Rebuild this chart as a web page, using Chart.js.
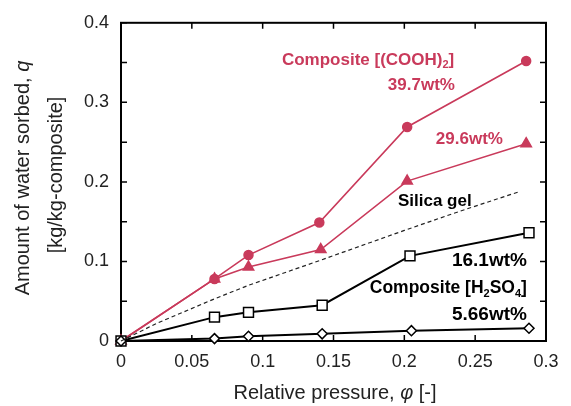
<!DOCTYPE html>
<html>
<head>
<meta charset="utf-8">
<script src="https://cdn.jsdelivr.net/npm/chart.js@4"></script>
<style>
html, body { margin: 0; padding: 0; background: #fff; }
#wrap { width: 571px; height: 406px; }
</style>
</head>
<body>
<div id="wrap"><canvas id="sorption"></canvas></div>
<script>
//values: relative pressure (phi) and water sorbed (q)
const phi_cooh_397 = [0, 0.066, 0.090, 0.140, 0.202, 0.286];
const q_cooh_397   = [0, 0.078, 0.108, 0.149, 0.269, 0.352];

const phi_cooh_296 = [0, 0.066, 0.090, 0.141, 0.202, 0.286];
const q_cooh_296   = [0, 0.078, 0.093, 0.115, 0.201, 0.248];

const phi_silica = [0, 0.025, 0.066, 0.090, 0.140, 0.200, 0.239, 0.280];
const q_silica   = [0, 0.022, 0.053, 0.070, 0.101, 0.139, 0.163, 0.187];

const phi_h2so4_161 = [0, 0.066, 0.090, 0.142, 0.204, 0.288];
const q_h2so4_161   = [0, 0.030, 0.036, 0.045, 0.107, 0.136];

const phi_h2so4_566 = [0, 0.066, 0.090, 0.142, 0.205, 0.288];
const q_h2so4_566   = [0, 0.003, 0.006, 0.009, 0.013, 0.016];

//axis ticks
const x_ticks = [0, 0.05, 0.1, 0.15, 0.2, 0.25, 0.3];
const y_ticks = [0, 0.05, 0.1, 0.15, 0.2, 0.25, 0.3, 0.35, 0.4];
const y_labels = [0, 0.1, 0.2, 0.3, 0.4];

const RED = '#c93a5b';
const FONT = '"Liberation Sans", Arial, sans-serif';

//text placed on the plot, anchored in data units
const notes = [
    { parts: [['Composite [(COOH)', 0], ['2', 1], [']', 0]], x: 0.1136, y: 0.3528, align: 'left', color: RED, size: 17 },
    { parts: [['39.7wt%', 0]], x: 0.2357, y: 0.3217, align: 'right', color: RED, size: 17 },
    { parts: [['29.6wt%', 0]], x: 0.2696, y: 0.2534, align: 'right', color: RED, size: 17 },
    { parts: [['Silica gel', 0]], x: 0.1955, y: 0.1752, align: 'left', color: '#000', size: 17 },
    { parts: [['16.1wt%', 0]], x: 0.2865, y: 0.1006, align: 'right', color: '#000', size: 19 },
    { parts: [['Composite [H', 0], ['2', 1], ['SO', 0], ['4', 1], [']', 0]], x: 0.2865, y: 0.0658, align: 'right', color: '#000', size: 17.5 },
    { parts: [['5.66wt%', 0]], x: 0.2865, y: 0.0335, align: 'right', color: '#000', size: 19 }
];

function toPoints(xs, ys) {
    return xs.map((x, i) => ({ x: x, y: ys[i] }));
}

function drawParts(ctx, parts, x, y, align, size) {
    const big = 'bold ' + size + 'px ' + FONT;
    const small = 'bold ' + Math.round(size * 0.62) + 'px ' + FONT;
    let total = 0;
    parts.forEach(p => {
        ctx.font = p[1] ? small : big;
        total += ctx.measureText(p[0]).width;
    });
    let cx = align === 'right' ? x - total : x;
    ctx.textBaseline = 'middle';
    ctx.textAlign = 'left';
    parts.forEach(p => {
        ctx.font = p[1] ? small : big;
        ctx.fillText(p[0], cx, p[1] ? y + 5 : y);
        cx += ctx.measureText(p[0]).width;
    });
}

//frame with inward ticks on all four sides
const framePlugin = {
    id: 'frame',
    beforeDatasetsDraw(chart) {
        const { ctx, chartArea: a, scales } = chart;
        ctx.save();
        ctx.strokeStyle = '#000';
        ctx.lineWidth = 2;
        ctx.strokeRect(a.left, a.top, a.right - a.left, a.bottom - a.top);
        ctx.lineWidth = 1.5;
        ctx.beginPath();
        x_ticks.forEach(v => {
            const px = scales.x.getPixelForValue(v);
            ctx.moveTo(px, a.bottom); ctx.lineTo(px, a.bottom - 6);
            ctx.moveTo(px, a.top); ctx.lineTo(px, a.top + 6);
        });
        y_ticks.forEach(v => {
            const py = scales.y.getPixelForValue(v);
            ctx.moveTo(a.left, py); ctx.lineTo(a.left + 6, py);
            ctx.moveTo(a.right, py); ctx.lineTo(a.right - 6, py);
        });
        ctx.stroke();
        ctx.restore();
    },
    afterDraw(chart) {
        const { ctx, chartArea: a, scales } = chart;
        ctx.save();
        notes.forEach(n => {
            ctx.fillStyle = n.color;
            drawParts(ctx, n.parts, scales.x.getPixelForValue(n.x), scales.y.getPixelForValue(n.y), n.align, n.size);
        });

        //axis titles, with italic symbols
        ctx.fillStyle = '#222';
        ctx.textBaseline = 'middle';
        ctx.textAlign = 'left';
        const reg = '20px ' + FONT, ita = 'italic 20px ' + FONT;
        let xt = [['Relative pressure, ', reg], ['\u03C6', ita], [' [-]', reg]];
        let w = 0;
        xt.forEach(t => { ctx.font = t[1]; w += ctx.measureText(t[0]).width; });
        let cx = 335 - w / 2;
        xt.forEach(t => { ctx.font = t[1]; ctx.fillText(t[0], cx, 393); cx += ctx.measureText(t[0]).width; });

        ctx.rotate(-Math.PI / 2);
        let yt = [['Amount of water sorbed, ', reg], ['q', ita]];
        w = 0;
        yt.forEach(t => { ctx.font = t[1]; w += ctx.measureText(t[0]).width; });
        let cy = -178 - w / 2;
        yt.forEach(t => { ctx.font = t[1]; ctx.fillText(t[0], cy, 23); cy += ctx.measureText(t[0]).width; });
        ctx.font = reg;
        ctx.textAlign = 'center';
        ctx.fillText('[kg/kg-composite]', -175, 56);
        ctx.restore();
    }
};

const series = (label, data, color, style, radius, fill, width, dash) => ({
    label: label,
    data: data,
    showLine: true,
    borderColor: color,
    borderWidth: width,
    borderDash: dash || [],
    backgroundColor: color,
    pointStyle: style,
    pointRadius: radius,
    pointBackgroundColor: fill,
    pointBorderColor: color,
    pointBorderWidth: 1.5,
    clip: 10
});

new Chart(document.getElementById('sorption'), {
    type: 'scatter',
    data: {
        datasets: [
            series('Silica gel', toPoints(phi_silica, q_silica), '#222', false, 0, '#222', 1.2, [4, 3]),
            series('Composite [H2SO4] 5.66wt%', toPoints(phi_h2so4_566, q_h2so4_566), '#000', 'rectRot', 5, '#fff', 2),
            series('Composite [H2SO4] 16.1wt%', toPoints(phi_h2so4_161, q_h2so4_161), '#000', 'rect', 7, '#fff', 2),
            series('Composite [(COOH)2] 29.6wt%', toPoints(phi_cooh_296, q_cooh_296), RED, 'triangle', 6, RED, 1.6),
            series('Composite [(COOH)2] 39.7wt%', toPoints(phi_cooh_397, q_cooh_397), RED, 'circle', 4.5, RED, 1.6)
        ]
    },
    options: {
        responsive: true,
        maintainAspectRatio: false,
        animation: false,
        events: [],
        layout: { padding: { top: 19, right: 25, left: 0, bottom: 0 } },
        plugins: { legend: { display: false }, tooltip: { enabled: false } },
        scales: {
            x: {
                type: 'linear',
                min: 0, max: 0.3,
                afterBuildTicks: s => { s.ticks = x_ticks.map(v => ({ value: v })); },
                afterFit: s => { s.height = 65; },
                grid: { display: false, drawTicks: false },
                border: { display: false },
                ticks: {
                    padding: 10,
                    color: '#222',
                    font: { family: FONT, size: 18 },
                    maxRotation: 0,
                    callback: v => String(Math.round(v * 100) / 100)
                }
            },
            y: {
                type: 'linear',
                min: 0, max: 0.4,
                afterBuildTicks: s => { s.ticks = y_ticks.map(v => ({ value: v })); },
                afterFit: s => { s.width = 121; },
                grid: { display: false, drawTicks: false },
                border: { display: false },
                ticks: {
                    padding: 12,
                    color: '#222',
                    font: { family: FONT, size: 18 },
                    callback: v => {
                        const r = Math.round(v * 100) / 100;
                        return y_labels.includes(r) ? String(r) : '';
                    }
                }
            }
        }
    },
    plugins: [framePlugin]
});
</script>
</body>
</html>
